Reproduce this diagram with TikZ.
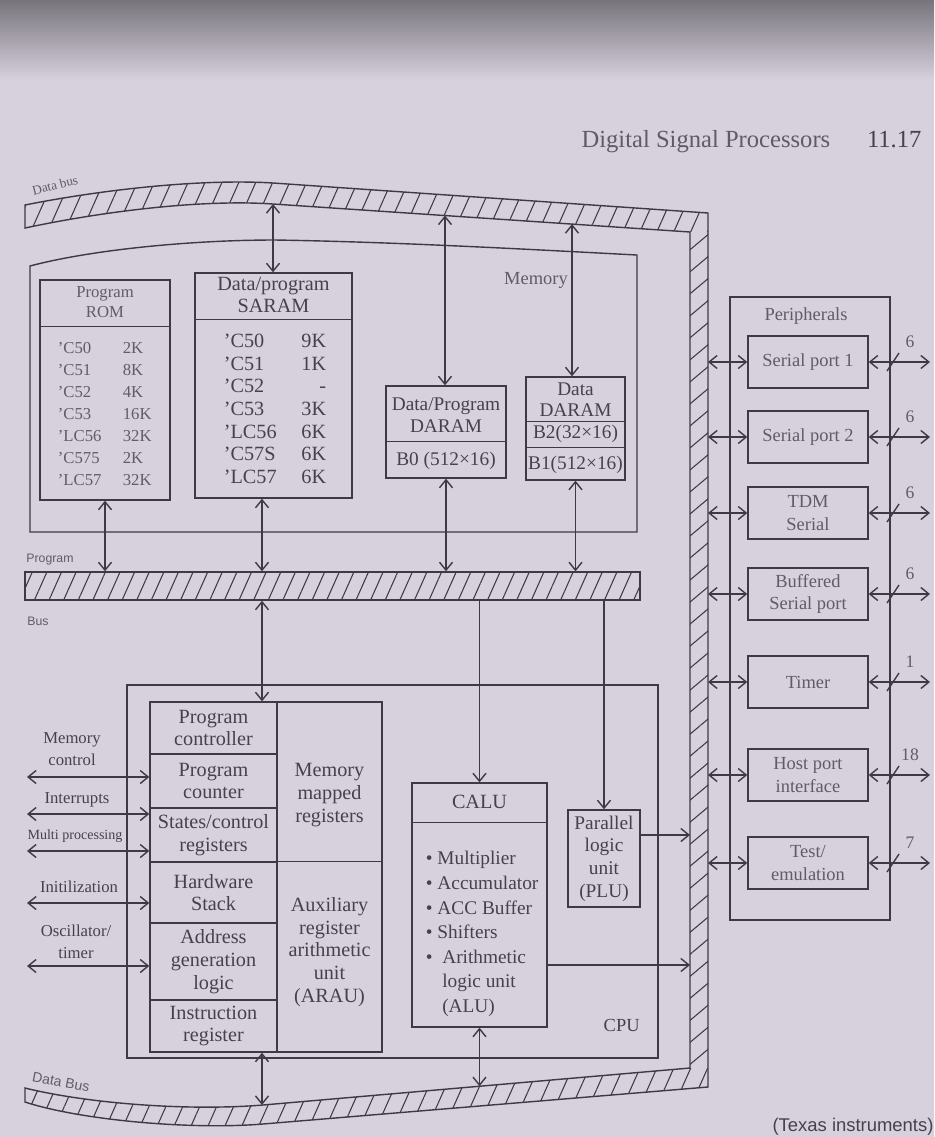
\documentclass[tikz,border=0pt]{standalone}
\usepackage{fontspec}
\setmainfont{Liberation Serif}
\setsansfont{Liberation Sans}
\usetikzlibrary{arrows.meta,positioning,calc,patterns.meta}

\definecolor{paper}{RGB}{214,209,221}
\definecolor{shadow}{RGB}{120,116,124}
\definecolor{ink}{RGB}{62,58,68}
\definecolor{inktext}{RGB}{70,66,76}
\definecolor{inkpale}{RGB}{96,92,102}

\begin{document}
\begin{tikzpicture}[
  x=0.02cm, y=-0.02cm,
  color=ink, line width=0.8pt,
  box/.style={draw=ink, line width=0.8pt, inner sep=0pt},
  cell/.style={draw=ink, line width=0.8pt, inner sep=0pt, minimum width=2.54cm,
               text=inktext, align=center, font=\fontsize{11.5}{13}\selectfont},
  pbox/.style={draw=ink, line width=0.8pt, inner sep=0pt, minimum width=2.4cm,
               minimum height=1.04cm, text=inkpale, align=center,
               font=\fontsize{10.5}{13}\selectfont},
  txt/.style={text=inktext, align=center, font=\fontsize{11.5}{13}\selectfont},
  romtxt/.style={text=inkpale, align=left, font=\fontsize{9.5}{12.5}\selectfont},
  ramtxt/.style={text=inktext, font=\fontsize{11.5}{12.9}\selectfont},
  sigtxt/.style={text=inktext, align=center, font=\fontsize{9.5}{12.5}\selectfont},
  numtxt/.style={text=inkpale, font=\fontsize{10}{12}\selectfont},
  buslabel/.style={text=inkpale, font=\sffamily\fontsize{7}{8}\selectfont},
  arrow/.style={-{Straight Barb[length=1.6mm,width=2.6mm]}, line width=0.8pt},
  biarrow/.style={{Straight Barb[length=1.6mm,width=2.6mm]}-{Straight Barb[length=1.6mm,width=2.6mm]}, line width=0.8pt},
  busslash/.style={line width=0.8pt},
  hatch/.style={pattern={Lines[angle=66,distance=8.8pt,line width=0.6pt]}, pattern color=ink},
  vhatch/.style={pattern={Lines[angle=40,distance=9.6pt,line width=0.6pt]}, pattern color=ink},
  phatch/.style={pattern={Lines[angle=66,distance=7.6pt,line width=0.6pt]}, pattern color=ink}
]

% Page
\useasboundingbox (0,0) rectangle (934,1137);
\fill[paper] (0,0) rectangle (934,1137);
\shade[top color=shadow, bottom color=paper] (0,0) rectangle (934,80);

% Running head
\node[font=\fontsize{14}{16}\selectfont, text=inkpale, anchor=base west] (headtitle) at (575,147) {Digital Signal Processors};
\node[font=\fontsize{14}{16}\selectfont, text=inktext, anchor=base east] (headpage) at (928,147) {11.17};

% Data bus (top, right side, bottom)
\path[hatch] (25,205) .. controls (100,190) and (200,178.5) .. (273,183) -- (708,213) -- (708,232)
  -- (690,232) -- (273,204) .. controls (200,199) and (100,212) .. (25,228) -- cycle;
\path[vhatch] (690,232) rectangle (708,1068);
\path[hatch] (708,1068) -- (708,1087) -- (263,1124) .. controls (190,1130) and (80,1120) .. (25,1102)
  -- (25,1088) .. controls (90,1104) and (190,1111) .. (263,1105) -- (690,1068) -- cycle;
\draw (25,205) .. controls (100,190) and (200,178.5) .. (273,183) -- (708,213) -- (708,1087)
  -- (263,1124) .. controls (190,1130) and (80,1120) .. (25,1102) -- (25,1088)
  .. controls (90,1104) and (190,1111) .. (263,1105) -- (690,1068) -- (690,232)
  -- (273,204) .. controls (200,199) and (100,212) .. (25,228) -- cycle;
\node[buslabel, font=\rmfamily\fontsize{7.5}{8}\selectfont, rotate=14] (topbuslabel) at (55,185) {Data bus};
\node[buslabel, font=\sffamily\fontsize{8}{9}\selectfont, rotate=-11] (botbuslabel) at (61,1082) {Data Bus};

\coordinate (tbsaram) at (273,204);
\coordinate (tbzero) at (445,215.5);
\coordinate (tbdata) at (572,224);
\coordinate (vbplu) at (690,835);
\coordinate (vbcalu) at (690,965);
\coordinate (vbout) at (708,0);
\coordinate (bbctrl) at (262,1105);
\coordinate (bbcalu) at (479.5,1086.2);

% Memory
\draw (30,266) .. controls (90,250) and (190,240) .. (275,240) .. controls (400,242) and (540,250) .. (637,255)
  -- (637,532) -- (30,532) -- cycle;
\node[txt, font=\fontsize{10.5}{12}\selectfont, text=inkpale] (memlabel) at (536,280) {Memory};

\node[box, minimum width=2.6cm, minimum height=4.4cm] (rom) at (105,390) {};
\draw ($(rom.north west)+(0,47)$) -- ($(rom.north east)+(0,47)$);
\node[romtxt, align=center, font=\fontsize{9.5}{11.4}\selectfont] (romhead) at ($(rom.north)+(0,23)$) {Program\\ROM};
\node[romtxt, anchor=west] (romchip) at ($(rom.west)+(12,24)$) {'C50\\'C51\\'C52\\'C53\\'LC56\\'C575\\'LC57};
\node[romtxt, anchor=west] (romsize) at ($(rom.west)+(77,24)$) {2K\\8K\\4K\\16K\\32K\\2K\\32K};

\node[box, minimum width=3.14cm, minimum height=4.5cm] (saram) at (273.5,385.5) {};
\draw ($(saram.north west)+(0,47)$) -- ($(saram.north east)+(0,47)$);
\node[txt, font=\fontsize{11.5}{12.5}\selectfont] (saramhead) at ($(saram.north)+(0,23)$) {Data/program\\SARAM};
\node[ramtxt, align=left, anchor=west] (saramchip) at ($(saram.west)+(23,23.5)$) {'C50\\'C51\\'C52\\'C53\\'LC56\\'C57S\\'LC57};
\node[ramtxt, align=right, anchor=east] (saramsize) at ($(saram.east)+(-20,23.5)$) {9K\\1K\\-\\3K\\6K\\6K\\6K};

\node[box, minimum width=2.4cm, minimum height=1.84cm] (bzero) at (446,432) {};
\draw ($(bzero.north west)+(0,56)$) -- ($(bzero.north east)+(0,56)$);
\node[txt, font=\fontsize{11}{12.5}\selectfont] (bzerohead) at ($(bzero.north)+(0,30)$) {Data/Program\\DARAM};
\node[txt, font=\fontsize{11}{12.5}\selectfont] (bzerosize) at ($(bzero.south)+(0,-18)$) {B0 (512×16)};

\node[box, minimum width=1.98cm, minimum height=2.06cm] (ddaram) at (575.5,428.5) {};
\draw ($(ddaram.north west)+(0,45)$) -- ($(ddaram.north east)+(0,45)$);
\draw ($(ddaram.north west)+(0,71)$) -- ($(ddaram.north east)+(0,71)$);
\node[txt, font=\fontsize{11}{12}\selectfont] (ddaramhead) at ($(ddaram.north)+(0,23)$) {Data\\DARAM};
\node[txt, font=\fontsize{11}{12}\selectfont] (btwo) at ($(ddaram.north)+(0,58)$) {B2(32×16)};
\node[txt, font=\fontsize{11}{12}\selectfont] (bone) at ($(ddaram.south)+(0,-16)$) {B1(512×16)};

\draw[biarrow] (tbsaram) -- (tbsaram |- saram.north);
\draw[biarrow] (tbzero) -- (tbzero |- bzero.north);
\draw[biarrow] (tbdata) -- (tbdata |- ddaram.north);

% Program bus
\node[draw=ink, phatch, line width=0.8pt, minimum width=12.3cm, minimum height=0.56cm, inner sep=0pt] (pbus) at (332.5,586) {};
\node[buslabel] (pbuslabel) at (50,560) {Program};
\node[buslabel] (pbuslabelb) at (38,621) {Bus};
\coordinate (spine) at (262,0);

\draw[biarrow] (rom.south) -- (rom.south |- pbus.north);
\draw[biarrow] (spine |- saram.south) -- (spine |- pbus.north);
\draw[biarrow] (bzero.south) -- (bzero.south |- pbus.north);
\draw[biarrow] (ddaram.south) -- (ddaram.south |- pbus.north);

% CPU
\node[box, minimum width=10.62cm, minimum height=7.46cm] (cpu) at (392.5,871.5) {};
\node[txt, font=\fontsize{10.5}{12}\selectfont] (cpulabel) at ($(cpu.south east)+(-37,-33)$) {CPU};

\node[box, minimum width=4.64cm, minimum height=7.0cm] (ctrl) at (266,877) {};
\node[cell, minimum height=1.04cm] (progctl) at (213.5,728) {Program\\controller};
\node[cell, minimum height=1.08cm] (progcnt) at (213.5,781) {Program\\counter};
\node[cell, minimum height=1.08cm] (states) at (213.5,835) {States/control\\registers};
\node[cell, minimum height=1.22cm] (hwstack) at (213.5,892.5) {Hardware\\Stack};
\node[cell, minimum height=1.54cm] (addrgen) at (213.5,961.5) {Address\\generation\\logic};
\node[cell, minimum height=1.04cm] (instreg) at (213.5,1026) {Instruction\\register};
\draw (hwstack.north east) -- (hwstack.north east -| ctrl.east);
\node[txt] (mmr) at (329.5,795) {Memory\\mapped\\registers};
\node[txt] (arau) at (329.5,952) {Auxiliary\\register\\arithmetic\\unit\\(ARAU)};

\node[box, minimum width=2.7cm, minimum height=4.88cm] (calu) at (479.5,905) {};
\draw ($(calu.north west)+(0,40)$) -- ($(calu.north east)+(0,40)$);
\node[txt] (caluhead) at ($(calu.north)+(0,20)$) {CALU};
\node[txt, align=left, anchor=west, font=\fontsize{11}{14}\selectfont] (calulist) at ($(calu.west)+(8,29)$)
{\textbullet\ Multiplier\\\textbullet\ Accumulator\\\textbullet\ ACC Buffer\\\textbullet\ Shifters\\%
\textbullet\ \ Arithmetic\\\hphantom{\textbullet\ \ }logic unit\\\hphantom{\textbullet\ \ }(ALU)};

\node[box, minimum width=1.44cm, minimum height=1.94cm, txt, font=\fontsize{11}{12.9}\selectfont] (plu) at (604,858.5) {Parallel\\logic\\unit\\(PLU)};

\draw[biarrow] (spine |- pbus.south) -- (spine |- ctrl.north);
\draw[arrow] (calu.north |- pbus.south) -- (calu.north);
\draw[arrow] (plu.north |- pbus.south) -- (plu.north);
\draw[arrow] (plu.east |- vbplu) -- (vbplu);
\draw[arrow] (calu.east |- vbcalu) -- (vbcalu);
\draw[biarrow] (bbctrl |- ctrl.south) -- (bbctrl);
\draw[biarrow] (calu.south) -- (calu.south |- bbcalu);

% External CPU signals
\coordinate (sigmem) at (27,777);
\coordinate (sigint) at (27,814);
\coordinate (sigmulti) at (27,851);
\coordinate (siginit) at (27,903);
\coordinate (sigosc) at (27,966);
\draw[biarrow] (sigmem) -- (sigmem -| ctrl.west);
\draw[biarrow] (sigint) -- (sigint -| ctrl.west);
\draw[biarrow] (sigmulti) -- (sigmulti -| ctrl.west);
\draw[biarrow] (siginit) -- (siginit -| ctrl.west);
\draw[biarrow] (sigosc) -- (sigosc -| ctrl.west);
\node[sigtxt] (lblmem) at (72,749) {Memory\\control};
\node[sigtxt] (lblint) at (77,800) {Interrupts};
\node[sigtxt, font=\fontsize{8}{9}\selectfont] (lblmulti) at (75,836) {Multi processing};
\node[sigtxt] (lblinit) at (79,887) {Initilization};
\node[sigtxt] (lblosc) at (76,942) {Oscillator/\\timer};

% Peripherals
\node[box, minimum width=3.2cm, minimum height=12.46cm] (periph) at (810,608.5) {};
\node[pbox, draw=none] (periphlabel) at ($(periph.north)+(-4,20)$) {Peripherals};
\coordinate (pslash) at (893,0);
\coordinate (pend) at (930,0);

\node[pbox] (sportone) at (808,362) {Serial port 1};
\node[pbox] (sporttwo) at (808,437) {Serial port 2};
\node[pbox] (tdm) at (808,513) {TDM\\Serial};
\node[pbox] (bsp) at (808,594) {Buffered\\Serial port};
\node[pbox] (timer) at (808,682) {Timer};
\node[pbox] (hpi) at (808,775) {Host port\\interface};
\node[pbox] (testemu) at (808,863) {Test/\\emulation};

\draw[biarrow] (sportone.west -| vbout) -- (sportone.west);
\draw[biarrow] (sporttwo.west -| vbout) -- (sporttwo.west);
\draw[biarrow] (tdm.west -| vbout) -- (tdm.west);
\draw[biarrow] (bsp.west -| vbout) -- (bsp.west);
\draw[biarrow] (timer.west -| vbout) -- (timer.west);
\draw[biarrow] (hpi.west -| vbout) -- (hpi.west);
\draw[biarrow] (testemu.west -| vbout) -- (testemu.west);

\draw[biarrow] (sportone.east) -- (sportone.east -| pend);
\draw[biarrow] (sporttwo.east) -- (sporttwo.east -| pend);
\draw[biarrow] (tdm.east) -- (tdm.east -| pend);
\draw[biarrow] (bsp.east) -- (bsp.east -| pend);
\draw[biarrow] (timer.east) -- (timer.east -| pend);
\draw[biarrow] (hpi.east) -- (hpi.east -| pend);
\draw[biarrow] (testemu.east) -- (testemu.east -| pend);

\draw[busslash] ($(sportone.east -| pslash)+(-6,9)$) -- ++(12,-18);
\draw[busslash] ($(sporttwo.east -| pslash)+(-6,9)$) -- ++(12,-18);
\draw[busslash] ($(tdm.east -| pslash)+(-6,9)$) -- ++(12,-18);
\draw[busslash] ($(bsp.east -| pslash)+(-6,9)$) -- ++(12,-18);
\draw[busslash] ($(timer.east -| pslash)+(-6,9)$) -- ++(12,-18);
\draw[busslash] ($(hpi.east -| pslash)+(-6,9)$) -- ++(12,-18);
\draw[busslash] ($(testemu.east -| pslash)+(-6,9)$) -- ++(12,-18);

\node[numtxt] (wsportone) at ($(sportone.east -| pslash)+(17,-20)$) {6};
\node[numtxt] (wsporttwo) at ($(sporttwo.east -| pslash)+(17,-20)$) {6};
\node[numtxt] (wtdm) at ($(tdm.east -| pslash)+(17,-20)$) {6};
\node[numtxt] (wbsp) at ($(bsp.east -| pslash)+(17,-20)$) {6};
\node[numtxt] (wtimer) at ($(timer.east -| pslash)+(17,-20)$) {1};
\node[numtxt] (whpi) at ($(hpi.east -| pslash)+(17,-20)$) {18};
\node[numtxt] (wtestemu) at ($(testemu.east -| pslash)+(17,-20)$) {7};

% Caption
\node[font=\sffamily\fontsize{10.5}{12}\selectfont, text=inktext, anchor=base west] (caption) at (766,1131) {(Texas instruments)};

\end{tikzpicture}
\end{document}
